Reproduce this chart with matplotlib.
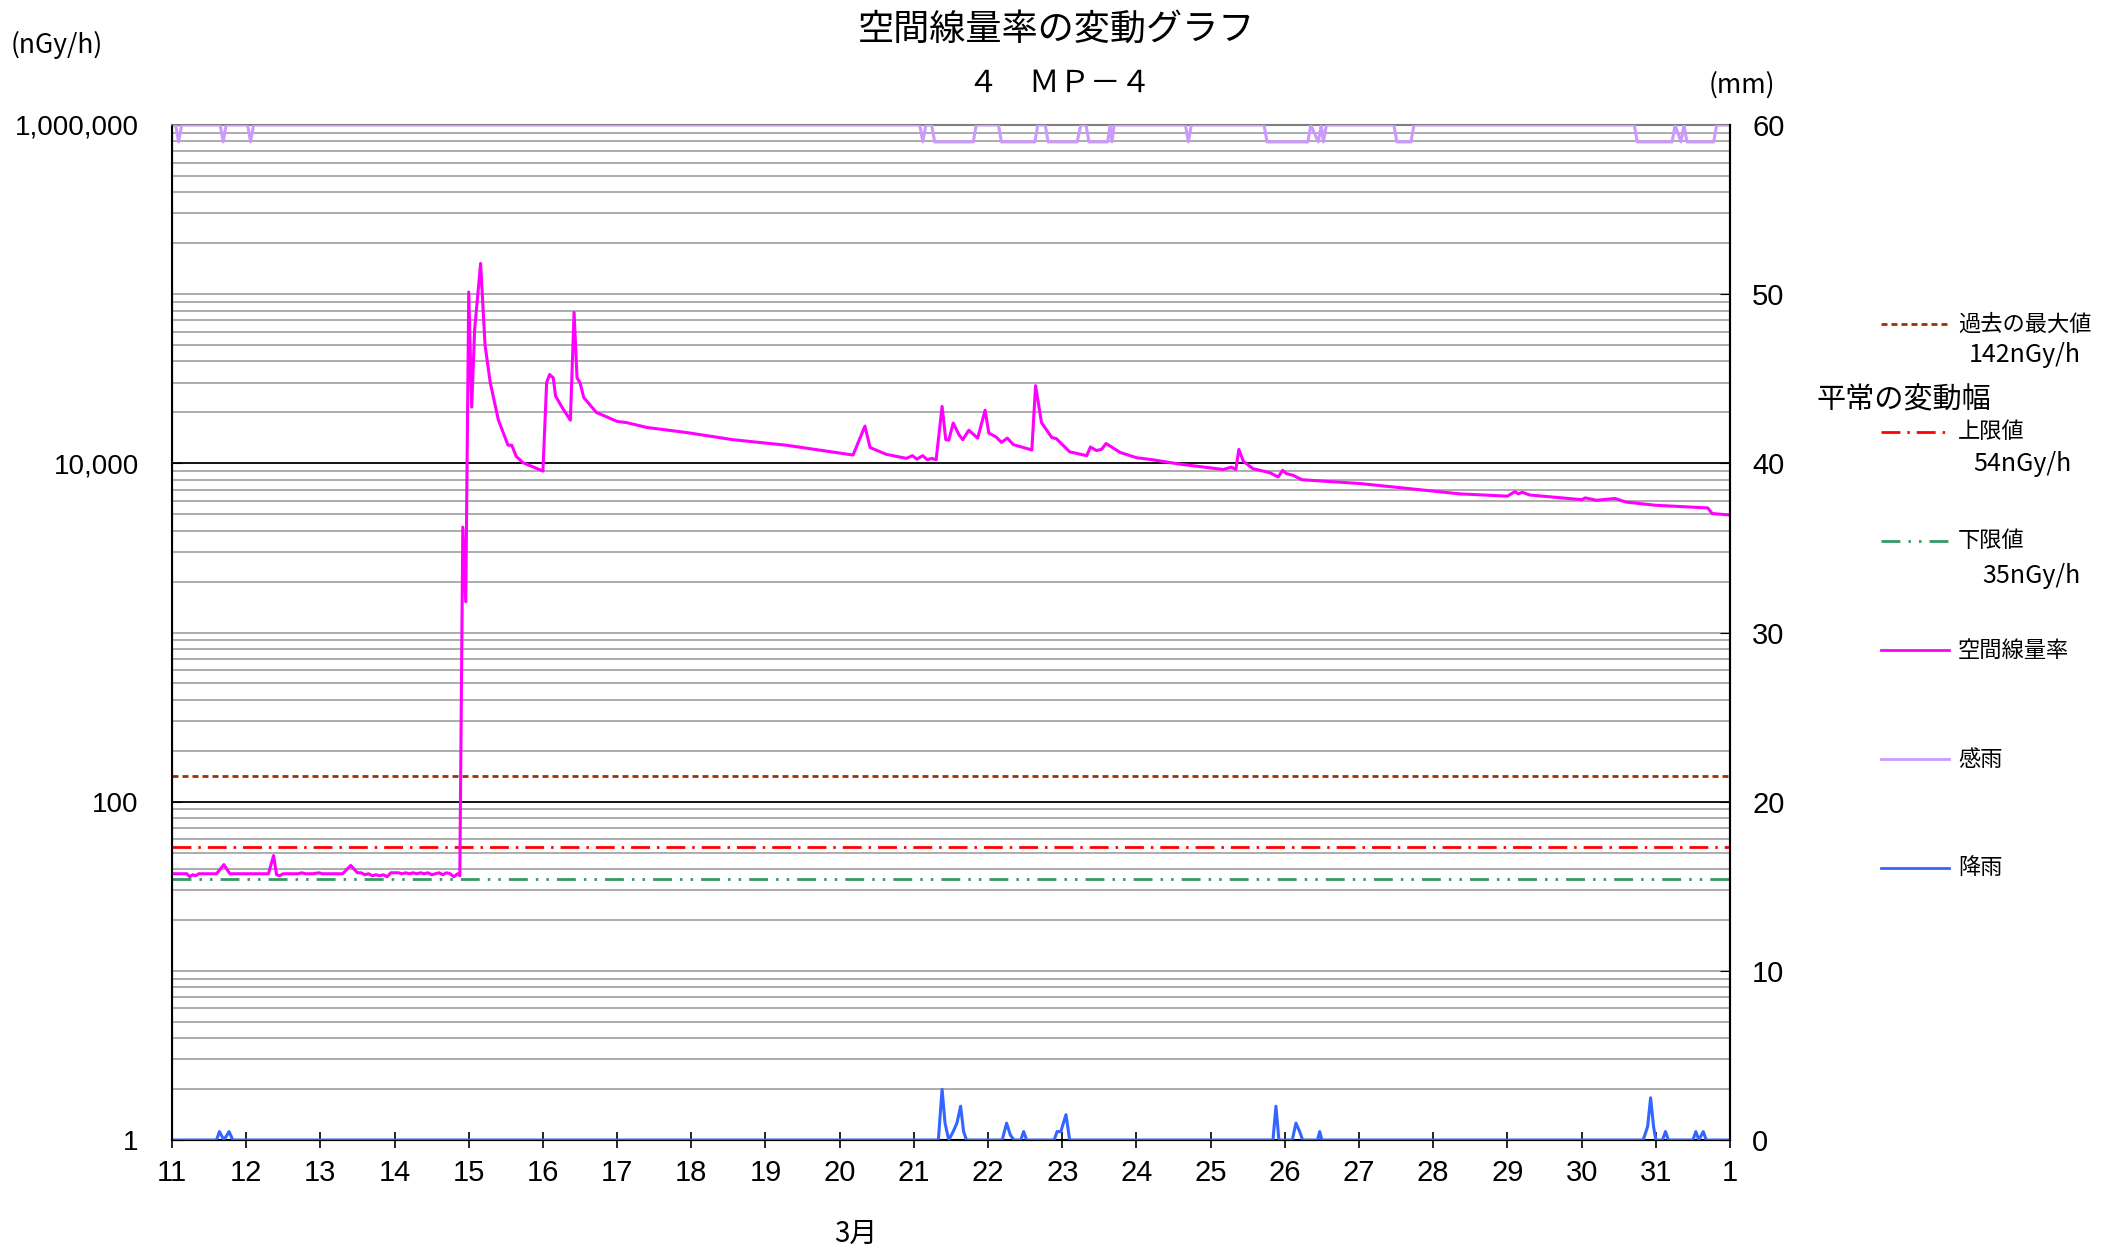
import numpy as np
import matplotlib
matplotlib.use("Agg")
import matplotlib.pyplot as plt
from matplotlib import font_manager
from matplotlib.lines import Line2D
from matplotlib.ticker import FixedLocator, LogLocator, NullFormatter

# 空間線量率 (nGy/h)  -- 日 (3月) と値
dose_t = [11.00, 11.10, 11.20, 11.24, 11.28, 11.32, 11.36, 11.60, 11.70, 11.78,
          12.30, 12.37, 12.41, 12.45, 12.50, 12.70, 12.75, 12.80, 12.90, 12.98,
          13.03, 13.30, 13.41, 13.50, 13.55, 13.60, 13.65, 13.70, 13.75, 13.80,
          13.85, 13.90, 13.95, 14.05, 14.10, 14.15, 14.20, 14.25, 14.30, 14.35,
          14.40, 14.45, 14.50, 14.55, 14.60, 14.65, 14.70, 14.75, 14.80, 14.85,
          14.88, 14.92, 14.96, 15.00, 15.04, 15.08, 15.16, 15.22, 15.29, 15.40,
          15.53, 15.58, 15.64, 15.73, 16.00, 16.05, 16.09, 16.14, 16.17, 16.27,
          16.37, 16.42, 16.46, 16.50, 16.55, 16.72, 17.00, 17.13, 17.40, 17.94,
          18.56, 19.28, 20.18, 20.34, 20.41, 20.63, 20.90, 20.98, 21.04, 21.12,
          21.18, 21.24, 21.30, 21.38, 21.43, 21.47, 21.53, 21.61, 21.66, 21.74,
          21.86, 21.96, 22.01, 22.11, 22.18, 22.26, 22.34, 22.59, 22.64, 22.72,
          22.86, 22.92, 23.10, 23.33, 23.38, 23.46, 23.53, 23.59, 23.78, 24.00,
          24.22, 24.58, 25.17, 25.28, 25.34, 25.38, 25.44, 25.57, 25.80, 25.91,
          25.97, 26.02, 26.11, 26.23, 27.01, 28.36, 29.00, 29.10, 29.15, 29.20,
          29.30, 30.00, 30.05, 30.20, 30.45, 30.60, 31.00, 31.70, 31.76, 32.00]
dose_v = [37.5, 37.5, 37.5, 36, 37, 36.5, 37.5, 37.5, 42.5, 37.5,
          37.5, 48, 37, 36.5, 37.5, 37.5, 38, 37.5, 37.5, 38,
          37.5, 37.5, 42, 38, 38, 37, 37.5, 36.5, 37, 36.5,
          37, 36, 38, 38, 37.5, 38, 37.5, 38, 37.5, 38,
          37.5, 38, 37, 37.5, 38, 37, 38, 37.5, 36, 37.5,
          36.5, 4200, 1520, 103000, 21500, 62000, 152000, 50000, 30000, 18000,
          12800, 12800, 11000, 10100, 9000, 30000, 33500, 32000, 25000, 21000,
          18000, 78000, 32000, 30000, 24500, 20000, 17700, 17400, 16300, 15200,
          13800, 12800, 11200, 16600, 12400, 11300, 10700, 11100, 10600, 11100,
          10500, 10700, 10500, 21700, 13800, 13700, 17300, 14700, 13800, 15700,
          14100, 20600, 15100, 14300, 13300, 14100, 12900, 12000, 28800, 17400,
          14200, 14000, 11700, 11100, 12500, 11900, 12100, 13100, 11600, 10800,
          10500, 9900, 9200, 9500, 9200, 12100, 10300, 9300, 8800, 8300,
          9100, 8700, 8500, 8000, 7600, 6600, 6400, 6800, 6600, 6750,
          6500, 6100, 6250, 6050, 6200, 5900, 5650, 5450, 5050, 4950]

# 感雨 (mm軸: 60=なし, 59=感雨あり)
sensor_t = [11.00, 11.05, 11.09, 11.13, 11.65, 11.69, 11.73, 12.02, 12.06, 12.10,
            21.08, 21.12, 21.16, 21.24, 21.28, 21.80, 21.84,
            22.14, 22.18, 22.63, 22.67, 22.77, 22.81, 23.20, 23.25,
            23.32, 23.36, 23.61, 23.645, 23.67, 23.70,
            24.66, 24.70, 24.74,
            25.72, 25.76, 26.31, 26.35, 26.45, 26.49, 26.52, 26.56,
            27.47, 27.51, 27.70, 27.74,
            30.71, 30.75, 31.22, 31.26, 31.34, 31.38, 31.42, 31.78, 31.82, 32.00]
sensor_v = [60, 60, 59, 60, 60, 59, 60, 60, 59, 60,
            60, 59, 60, 60, 59, 59, 60,
            60, 59, 59, 60, 60, 59, 59, 60,
            60, 59, 59, 60, 59, 60,
            60, 59, 60,
            60, 59, 59, 60, 59, 60, 59, 60,
            60, 59, 59, 60,
            60, 59, 59, 60, 59, 60, 59, 59, 60, 60]

# 降雨 (mm)
rain_t = [11.00, 11.60, 11.64, 11.70, 11.77, 11.82,
          21.33, 21.38, 21.42, 21.47, 21.53, 21.58, 21.63, 21.67, 21.71,
          22.19, 22.25, 22.30, 22.35, 22.44, 22.48, 22.52,
          22.89, 22.93, 22.98, 23.05, 23.10,
          25.84, 25.88, 25.92, 26.10, 26.15, 26.20, 26.24, 26.44, 26.47, 26.50,
          30.83, 30.89, 30.93, 30.97, 31.00, 31.09, 31.13, 31.17,
          31.50, 31.54, 31.58, 31.64, 31.68, 32.00]
rain_v = [0, 0, 0.5, 0, 0.5, 0,
          0, 3.0, 1.0, 0, 0.5, 1.0, 2.0, 0.5, 0,
          0, 1.0, 0.3, 0, 0, 0.5, 0,
          0, 0.5, 0.5, 1.5, 0,
          0, 2.0, 0, 0, 1.0, 0.5, 0, 0, 0.5, 0,
          0, 0.8, 2.5, 0.8, 0, 0, 0.5, 0,
          0, 0.5, 0, 0.5, 0, 0]

max_past = 142
upper_lim = 54
lower_lim = 35

day_ticks = list(range(11, 33))
day_labels = [str(d) for d in range(11, 32)] + ["1"]
dose_ticks = [1, 100, 10000, 1000000]
dose_labels = ["1", "100", "10,000", "1,000,000"]
mm_ticks = [0, 10, 20, 30, 40, 50, 60]

JP = "Noto Sans CJK JP"
names = {f.name for f in font_manager.fontManager.ttflist}
NUM = "Liberation Sans"
for cand in ["Liberation Sans Narrow", "DejaVu Sans Condensed"]:
    if cand in names:
        NUM = cand
        break

c_dose = "#FF00FF"
c_sensor = "#CC99FF"
c_rain = "#3366FF"
c_max = "#993300"
c_up = "#FF0000"
c_low = "#339966"
ls_max = (0, (2.15, 1.45))
ls_up = (0, (6.8, 2.5, 0.9, 2.5))
ls_low = (0, (6.8, 2.9, 0.9, 2.9, 0.9, 2.9))

fig = plt.figure(figsize=(21.1, 12.55), dpi=100)
ax = fig.add_axes([0.0815, 0.0916, 0.7384, 0.8088])

ax.set_yscale("log")
ax.set_ylim(1, 1000000)
ax.set_xlim(11, 32)

ax.plot([11, 32], [max_past, max_past], color=c_max, lw=2, ls=ls_max)
ax.plot([11, 32], [upper_lim, upper_lim], color=c_up, lw=2, ls=ls_up)
ax.plot([11, 32], [lower_lim, lower_lim], color=c_low, lw=2, ls=ls_low)
ax.plot(dose_t, dose_v, color=c_dose, lw=2.2)

ax.yaxis.set_major_locator(FixedLocator(dose_ticks))
ax.set_yticklabels(dose_labels, fontfamily=NUM, fontsize=20)
ax.yaxis.set_minor_locator(LogLocator(base=10, subs=np.arange(1, 10), numticks=100))
ax.yaxis.set_minor_formatter(NullFormatter())
ax.grid(axis="y", which="major", color="black", lw=1.3)
ax.grid(axis="y", which="minor", color="#A6A6A6", lw=1.3)
ax.tick_params(axis="y", which="minor", length=0)
ax.tick_params(axis="y", which="major", direction="in", length=7, pad=24)

ax.set_xticks(day_ticks)
ax.set_xticklabels(day_labels, fontfamily=NUM, fontsize=21)
ax.tick_params(axis="x", direction="inout", length=12, width=1.2, pad=8)

for s in ["left", "bottom", "right"]:
    ax.spines[s].set_linewidth(1.5)
    ax.spines[s].set_color("black")
ax.spines["top"].set_color("#808080")
ax.spines["top"].set_linewidth(1.5)

ax2 = ax.twinx()
ax2.set_ylim(0, 60)
ax2.plot(rain_t, rain_v, color=c_rain, lw=2.2)
ax2.plot(sensor_t, sensor_v, color=c_sensor, lw=2.2)
ax2.set_yticks(mm_ticks)
ax2.set_yticklabels([str(v) for v in mm_ticks], fontfamily=NUM, fontsize=21)
ax2.tick_params(axis="y", direction="in", length=7, pad=16)
ax2.set_xlim(11, 32)
ax2.spines["right"].set_linewidth(1.5)
ax2.spines["top"].set_visible(False)

# タイトル・単位
fig.text(0.5005, 0.976, "空間線量率の変動グラフ", fontfamily=JP, fontsize=26, ha="center", va="center")
fig.text(0.502, 0.934, "４　ＭＰ－４", fontfamily=JP, fontsize=22, ha="center", va="center")
fig.text(0.005, 0.964, "(nGy/h)", fontfamily=JP, fontsize=19, ha="left", va="center")
fig.text(0.810, 0.932, "(mm)", fontfamily=JP, fontsize=19, ha="left", va="center")
fig.text(0.4057, 0.017, "3月", fontfamily=JP, fontsize=20, ha="center", va="center")

# 凡例 (右側)
lx0, lx1, tx = 0.8915, 0.9237, 0.928
legend_items = [
    (0.7418, c_max, ls_max, "過去の最大値"),
    (0.6558, c_up, ls_up, "上限値"),
    (0.5690, c_low, ls_low, "下限値"),
    (0.4820, c_dose, "-", "空間線量率"),
    (0.3950, c_sensor, "-", "感雨"),
    (0.3084, c_rain, "-", "降雨"),
]
for y, c, ls, label in legend_items:
    fig.add_artist(Line2D([lx0, lx1], [y, y], color=c, lw=2, ls=ls, transform=fig.transFigure))
    fig.text(tx, y, label, fontfamily=JP, fontsize=16, ha="left", va="center")
fig.text(0.933, 0.7171, "142nGy/h", fontfamily=JP, fontsize=18, ha="left", va="center")
fig.text(0.861, 0.6813, "平常の変動幅", fontfamily=JP, fontsize=21, ha="left", va="center")
fig.text(0.935, 0.6303, "54nGy/h", fontfamily=JP, fontsize=18, ha="left", va="center")
fig.text(0.9394, 0.5410, "35nGy/h", fontfamily=JP, fontsize=18, ha="left", va="center")

fig.savefig("out.png", dpi=100)
